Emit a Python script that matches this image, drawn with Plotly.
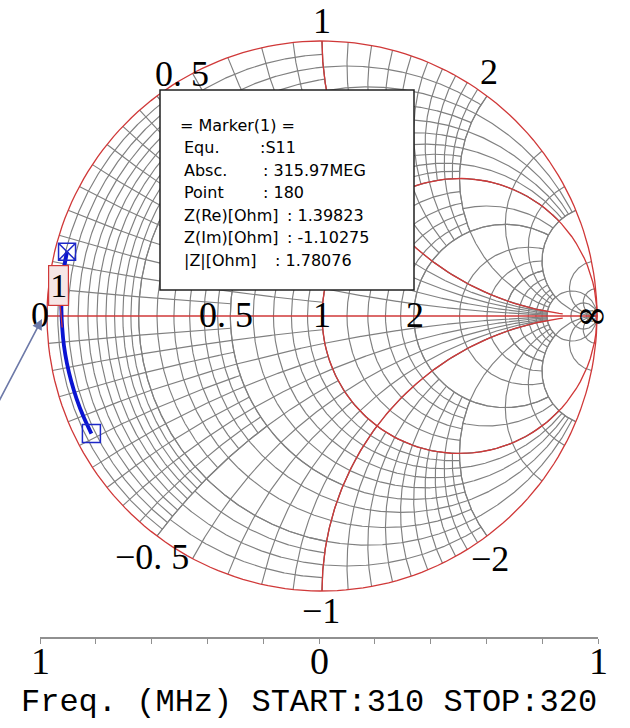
import numpy as np
import plotly.graph_objects as go

# measured S11 sweep (ohm, Z0 = 50)
freq_mhz = [310, 311, 312, 313, 314, 315, 316, 317, 318, 319, 320]
z_re_ohm = [1.60, 1.57, 1.54, 1.51, 1.47, 1.43, 1.40, 1.34, 1.27, 1.20, 1.14]
z_im_ohm = [-12.0, -10.1, -8.2, -6.4, -4.6, -2.9, -1.2, 0.6, 2.4, 4.3, 6.2]
z0 = 50.0

# marker readout
mk_re = 1.39823
mk_im = -1.10275
mk_title = "= Marker(1) ="
mk_labels = ["Equ.", "Absc.", "Point", "Z(Re)[Ohm]", "Z(Im)[Ohm]", "|Z|[Ohm]"]
mk_values = [":S11", ": 315.97MEG", ": 180", ": 1.39823", ": -1.10275", ": 1.78076"]

# smith grid zones: r from, r to, r step, |x| from, |x| to, x step
grid_zones = [
    (0.0, 0.2, 0.02, 0.0, 0.5, 0.05),
    (0.0, 0.2, 0.05, 0.5, 1.0, 0.1),
    (0.2, 0.5, 0.05, 0.0, 0.5, 0.05),
    (0.2, 0.5, 0.1, 0.5, 1.0, 0.1),
    (0.5, 1.0, 0.1, 0.0, 1.0, 0.1),
    (0.0, 1.0, 0.1, 1.0, 2.0, 0.1),
    (0.0, 1.0, 0.2, 2.0, 5.0, 1.0),
    (1.0, 2.0, 0.2, 0.0, 2.0, 0.2),
    (1.0, 2.0, 0.5, 2.0, 5.0, 1.0),
    (2.0, 10.0, 1.0, 0.0, 1.0, 0.2),
    (2.0, 5.0, 1.0, 1.0, 5.0, 1.0),
    (5.0, 10.0, 1.0, 1.0, 5.0, 1.0),
]
r_outer = [10.0, 20.0, 50.0]
x_outer = [5.0, 10.0, 20.0]
r_major = [1.0]
x_major = [1.0]

# bottom sweep scale
scale_ticks = [-1, -0.8, -0.6, -0.4, -0.2, 0, 0.2, 0.4, 0.6, 0.8, 1]
scale_labels = {-1: "1", 0: "0", 1: "1"}


def gam(z):
    return (z - 1) / (z + 1)


def r_arc(r, x0, x1):
    t = np.tan(np.linspace(np.arctan(x0), np.arctan(x1), 200))
    return gam(r + 1j * t)


def x_arc(x, r0, r1):
    s = np.tan(np.linspace(np.arctan(r0), np.arctan(r1), 200))
    return gam(s + 1j * x)


def steps(a, b, s):
    return np.round(np.arange(a, b + s / 2, s), 6)


def collect(arcs):
    gx, gy = [], []
    for g in arcs:
        gx += list(g.real) + [None]
        gy += list(g.imag) + [None]
    return gx, gy


gray = []
for r0, r1, rs, x0, x1, xs in grid_zones:
    for r in steps(r0, r1, rs):
        if r > 0:
            gray.append(r_arc(r, x0, x1))
            gray.append(r_arc(r, -x1, -x0))
    for x in steps(x0, x1, xs):
        if x > 0:
            gray.append(x_arc(x, r0, r1))
            gray.append(x_arc(-x, r0, r1))
for r in r_outer:
    gray.append(r_arc(r, -np.inf, np.inf))
for x in x_outer:
    gray.append(x_arc(x, 0, np.inf))
    gray.append(x_arc(-x, 0, np.inf))

red = [r_arc(0, -np.inf, np.inf)]
for r in r_major:
    red.append(r_arc(r, -np.inf, np.inf))
for x in x_major:
    red.append(x_arc(x, 0, 15))
    red.append(x_arc(-x, 0, 15))
red.append(np.array([-1 + 0j, 1 + 0j]))

fig = go.Figure()
gx, gy = collect(gray)
fig.add_trace(go.Scatter(x=gx, y=gy, mode="lines", line=dict(color="#808080", width=1.15),
                         hoverinfo="skip"))
rx, ry = collect(red)
fig.add_trace(go.Scatter(x=rx, y=ry, mode="lines", line=dict(color="#d03838", width=1.3),
                         hoverinfo="skip"))

# S11 trace
zn = (np.array(z_re_ohm) + 1j * np.array(z_im_ohm)) / z0
g = gam(zn)
fig.add_trace(go.Scatter(x=g.real, y=g.imag, mode="lines", line=dict(color="#0a14d2", width=3.8),
                         line_shape="spline", hoverinfo="skip"))
fig.add_trace(go.Scatter(x=[g.real[0]], y=[g.imag[0]], mode="markers",
                         marker=dict(symbol="square-open", size=18, color="#1e28c8",
                                     line=dict(width=1.5))))
fig.add_trace(go.Scatter(x=[g.real[-1]], y=[g.imag[-1]], mode="markers",
                         marker=dict(symbol="square-x-open", size=17, color="#1e28c8",
                                     line=dict(width=1.5))))
# bottom scale axis
fig.add_trace(go.Scatter(x=[scale_ticks[0], scale_ticks[-1]], y=[0, 0], xaxis="x2", yaxis="y2",
                         mode="lines", line=dict(width=0), hoverinfo="skip"))

gm = gam((mk_re + 1j * mk_im) / z0)

serif = "Liberation Serif"
ann = []
# reactance labels on the rim
for x, txt, dx, dy in [(0.5, "0. 5", 25, 22), (1, "1", 0, 20), (2, "2", 2, 24),
                       (-0.5, "\u22120. 5", -5, -21), (-1, "\u22121", -1, -20), (-2, "\u22122", 3, -23)]:
    p = gam(1j * x)
    ann.append(dict(x=p.real, y=p.imag, xshift=dx, yshift=dy, text=txt, showarrow=False,
                    font=dict(family=serif, size=36, color="black")))
# resistance labels on the real axis
for r, txt, dx in [(0, "0", -7), (0.5, "0. 5", -4), (1, "1", 0), (2, "2", 1)]:
    p = gam(r + 0j)
    ann.append(dict(x=p.real, y=p.imag, xshift=dx, yshift=1, text=txt, showarrow=False,
                    font=dict(family=serif, size=36, color="black")))
ann.append(dict(x=1, y=0, xshift=-5, yshift=1, text="\u221e", showarrow=False,
                font=dict(family="DejaVu Serif", size=38, color="black")))

# pointer arrow to the short-circuit point
ann.append(dict(x=-1, y=0, text="", showarrow=True, ax=-45, ay=86, xshift=-5, yshift=-3,
                arrowcolor="#6d79a8", arrowwidth=1.6, arrowhead=2, arrowsize=1.3, standoff=0))
# marker flag
ann.append(dict(x=gm.real, y=gm.imag, text="1", showarrow=True, ax=-4, ay=-42,
                arrowcolor="#d03838", arrowwidth=1.2, arrowhead=0,
                bgcolor="#f6e6e6", bordercolor="#d03838", borderwidth=1.2, borderpad=1,
                font=dict(family=serif, size=34, color="black")))

# marker readout box
box_font = dict(family="DejaVu Sans", size=16, color="black")
ann.append(dict(xref="paper", yref="paper", x=178 / 630, y=1 - 125 / 728, xanchor="left",
                yanchor="middle", text=mk_title, showarrow=False, font=box_font))
val_x = [258, 261, 261, 285, 285, 273]
for i, (lab, val) in enumerate(zip(mk_labels, mk_values)):
    yy = 1 - (148 + 22.5 * i) / 728
    ann.append(dict(xref="paper", yref="paper", x=182 / 630, y=yy, xanchor="left",
                    yanchor="middle", text=lab, showarrow=False, font=box_font))
    ann.append(dict(xref="paper", yref="paper", x=val_x[i] / 630, y=yy, xanchor="left",
                    yanchor="middle", text=val, showarrow=False, font=box_font))

# bottom scale labels
for v, txt in scale_labels.items():
    ann.append(dict(xref="x2", yref="paper", x=v, y=1 - 661 / 728, yanchor="middle",
                    text=txt, showarrow=False, font=dict(family=serif, size=38, color="black")))

ann.append(dict(xref="paper", yref="paper", x=309 / 630, y=1 - 702 / 728, xanchor="center",
                yanchor="middle", text="Freq. (MHz) START:%d STOP:%d" % (freq_mhz[0], freq_mhz[-1]),
                showarrow=False, font=dict(family="Liberation Mono", size=32, color="black")))

shapes = [dict(type="rect", xref="paper", yref="paper", x0=160 / 630, x1=414 / 630,
               y0=1 - 290 / 728, y1=1 - 90 / 728, line=dict(color="#202020", width=1.5),
               fillcolor="white", layer="above")]

fig.update_layout(
    width=630, height=728, margin=dict(l=0, r=0, t=0, b=0),
    paper_bgcolor="white", plot_bgcolor="white", showlegend=False,
    xaxis=dict(range=[-322 / 275, 308 / 275], visible=False, domain=[0, 1]),
    yaxis=dict(range=[-412 / 275, 316 / 275], visible=False, domain=[0, 1]),
    xaxis2=dict(domain=[40 / 630, 598 / 630], range=[-1, 1], anchor="y2",
                tickvals=scale_ticks, showticklabels=False, ticks="outside", ticklen=5,
                tickcolor="#909090", tickwidth=1.3, showline=True, linecolor="#909090",
                linewidth=1.6, showgrid=False, zeroline=False),
    yaxis2=dict(domain=[1 - 637 / 728, 1 - 627 / 728], visible=False, range=[0, 1]),
    annotations=ann, shapes=shapes,
)
fig.write_html("out.html", config={"displayModeBar": False},
               post_script="document.body.style.margin='0';")
